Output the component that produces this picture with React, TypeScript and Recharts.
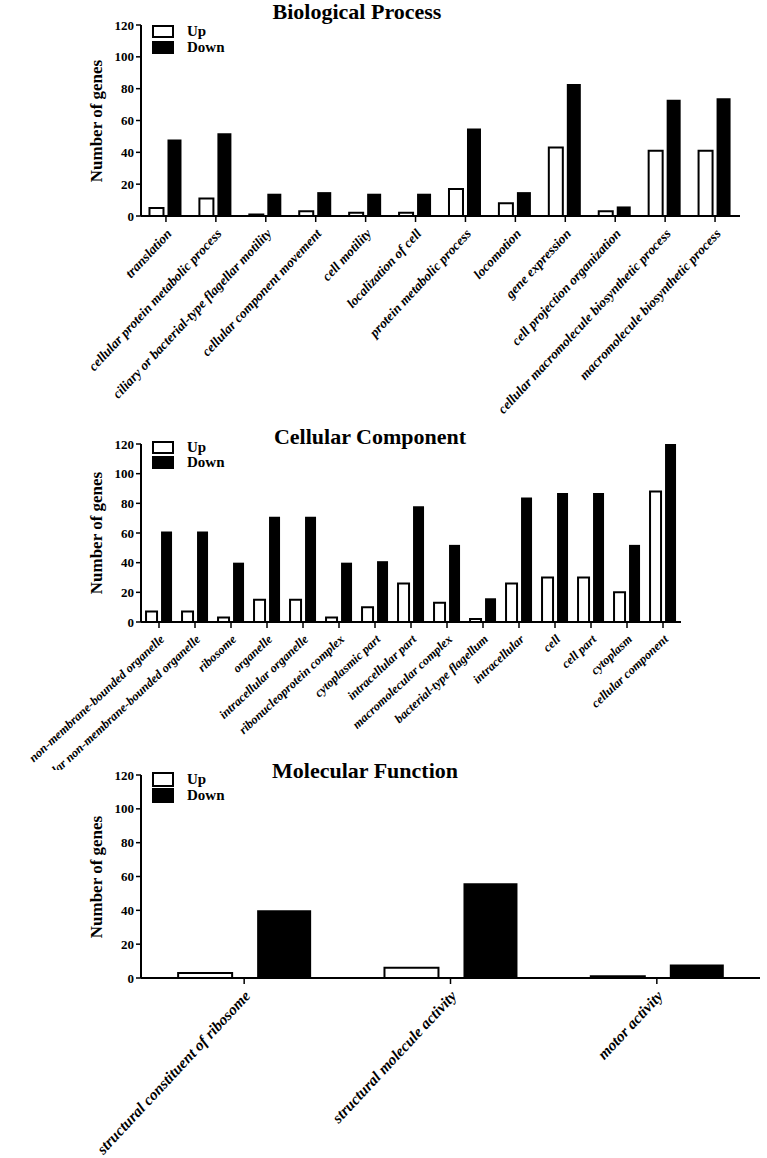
import { BarChart, Bar, XAxis, YAxis } from "recharts"

const bpCategories = [
  "translation",
  "cellular protein metabolic process",
  "ciliary or bacterial-type flagellar motility",
  "cellular component movement",
  "cell motility",
  "localization of cell",
  "protein metabolic process",
  "locomotion",
  "gene expression",
  "cell projection organization",
  "cellular macromolecule biosynthetic process",
  "macromolecule biosynthetic process",
]
const bpUp = [5, 11, 1, 3, 2, 2, 17, 8, 43, 3, 41, 41]
const bpDown = [48, 52, 14, 15, 14, 14, 55, 15, 83, 6, 73, 74]

const ccCategories = [
  "non-membrane-bounded organelle",
  "intracellular non-membrane-bounded organelle",
  "ribosome",
  "organelle",
  "intracellular organelle",
  "ribonucleoprotein complex",
  "cytoplasmic part",
  "intracellular part",
  "macromolecular complex",
  "bacterial-type flagellum",
  "intracellular",
  "cell",
  "cell part",
  "cytoplasm",
  "cellular component",
]
const ccUp = [7, 7, 3, 15, 15, 3, 10, 26, 13, 2, 26, 30, 30, 20, 88]
const ccDown = [61, 61, 40, 71, 71, 40, 41, 78, 52, 16, 84, 87, 87, 52, 120]

const mfCategories = [
  "structural constituent of ribosome",
  "structural molecule activity",
  "motor activity",
]
const mfUp = [3, 6, 1]
const mfDown = [40, 56, 8]

const yTicks = [0, 20, 40, 60, 80, 100, 120]

const font = "'Liberation Serif', 'Times New Roman', serif"

function toRows(cats: string[], up: number[], down: number[]) {
  return cats.map((name, i) => ({ name, up: up[i], down: down[i] }))
}

function makeTick(fontSize: number, angle: number) {
  return function AngledTick(props: any) {
    const { x, y, payload } = props
    return (
      <g transform={`translate(${x + 3},${y + 7}) rotate(${angle})`}>
        <text
          x={0}
          y={0}
          dy="0.35em"
          textAnchor="end"
          fill="#000"
          fontFamily={font}
          fontWeight="bold"
          fontStyle="italic"
          fontSize={fontSize}
        >
          {payload.value}
        </text>
      </g>
    )
  }
}

interface PanelProps {
  title: string
  categories: string[]
  up: number[]
  down: number[]
  top: number
  height: number
  plotTop: number
  plotBottom: number
  plotRight: number
  labelSize: number
  labelAngle: number
  catGap: string
  barGap: number
  titleTop: number
  titleCenter: number
  legendTop: number
  legendStep: number
  boxH: number
}

function Panel(p: PanelProps) {
  const data = toRows(p.categories, p.up, p.down)
  const marginTop = p.plotTop - p.top
  const xHeight = p.height - (p.plotBottom - p.top)
  const midY = (p.plotTop + p.plotBottom) / 2
  return (
    <>
      <div
        style={{
          position: "absolute",
          left: 0,
          top: p.top,
          width: 767,
          height: p.height,
        }}
      >
        <BarChart
          width={767}
          height={p.height}
          data={data}
          margin={{ top: marginTop, right: 767 - p.plotRight, left: 0, bottom: 0 }}
          barCategoryGap={p.catGap}
          barGap={p.barGap}
        >
          <XAxis
            dataKey="name"
            interval={0}
            height={xHeight}
            tick={makeTick(p.labelSize, p.labelAngle)}
            axisLine={{ stroke: "#000", strokeWidth: 2 }}
            tickLine={{ stroke: "#000", strokeWidth: 1.5 }}
            tickSize={6}
          />
          <YAxis
            width={141}
            domain={[0, 120]}
            ticks={yTicks}
            interval={0}
            allowDataOverflow
            axisLine={{ stroke: "#000", strokeWidth: 2 }}
            tickLine={{ stroke: "#000", strokeWidth: 1.5 }}
            tickSize={5}
            tick={{ fill: "#000", fontSize: 13, fontWeight: "bold", fontFamily: font }}
          />
          <Bar dataKey="up" fill="#fff" stroke="#000" strokeWidth={2} isAnimationActive={false} />
          <Bar dataKey="down" fill="#000" isAnimationActive={false} />
        </BarChart>
      </div>
      <div
        style={{
          position: "absolute",
          left: p.titleCenter - 150,
          width: 300,
          top: p.titleTop,
          textAlign: "center",
          fontFamily: font,
          fontWeight: "bold",
          fontSize: 22,
          lineHeight: "24px",
        }}
      >
        {p.title}
      </div>
      <div
        style={{
          position: "absolute",
          left: 97 - 80,
          top: midY - 10,
          width: 160,
          height: 20,
          lineHeight: "20px",
          textAlign: "center",
          transform: "rotate(-90deg)",
          fontFamily: font,
          fontWeight: "bold",
          fontSize: 17,
        }}
      >
        Number of genes
      </div>
      {["Up", "Down"].map((name, i) => (
        <div
          key={name}
          style={{
            position: "absolute",
            left: 152,
            top: p.legendTop + i * p.legendStep,
            height: p.boxH + 2,
            display: "flex",
            alignItems: "center",
            fontFamily: font,
            fontWeight: "bold",
            fontSize: 15,
          }}
        >
          <span
            style={{
              display: "inline-block",
              width: 18,
              height: p.boxH - 2,
              border: "2px solid #000",
              background: i === 0 ? "#fff" : "#000",
              marginRight: 13,
            }}
          />
          {name}
        </div>
      ))}
    </>
  )
}

export default function App() {
  return (
    <div
      style={{
        position: "absolute",
        left: 0,
        top: 0,
        width: 767,
        height: 1158,
        background: "#fff",
        overflow: "hidden",
      }}
    >
      <Panel
        title="Biological Process"
        categories={bpCategories}
        up={bpUp}
        down={bpDown}
        top={0}
        height={430}
        plotTop={25}
        plotBottom={216}
        plotRight={740}
        labelSize={13.5}
        labelAngle={-47}
        catGap="17%"
        barGap={4}
        titleTop={0}
        titleCenter={357}
        legendTop={25}
        legendStep={16}
        boxH={11}
      />
      <Panel
        title="Cellular Component"
        categories={ccCategories}
        up={ccUp}
        down={ccDown}
        top={400}
        height={370}
        plotTop={444}
        plotBottom={622}
        plotRight={681}
        labelSize={12.5}
        labelAngle={-43}
        catGap="14%"
        barGap={4}
        titleTop={425}
        titleCenter={370}
        legendTop={441}
        legendStep={15}
        boxH={11}
      />
      <Panel
        title="Molecular Function"
        categories={mfCategories}
        up={mfUp}
        down={mfDown}
        top={760}
        height={398}
        plotTop={775}
        plotBottom={978}
        plotRight={760}
        labelSize={15.5}
        labelAngle={-47}
        catGap="18%"
        barGap={25}
        titleTop={759}
        titleCenter={365}
        legendTop={772}
        legendStep={16}
        boxH={13}
      />
    </div>
  )
}
